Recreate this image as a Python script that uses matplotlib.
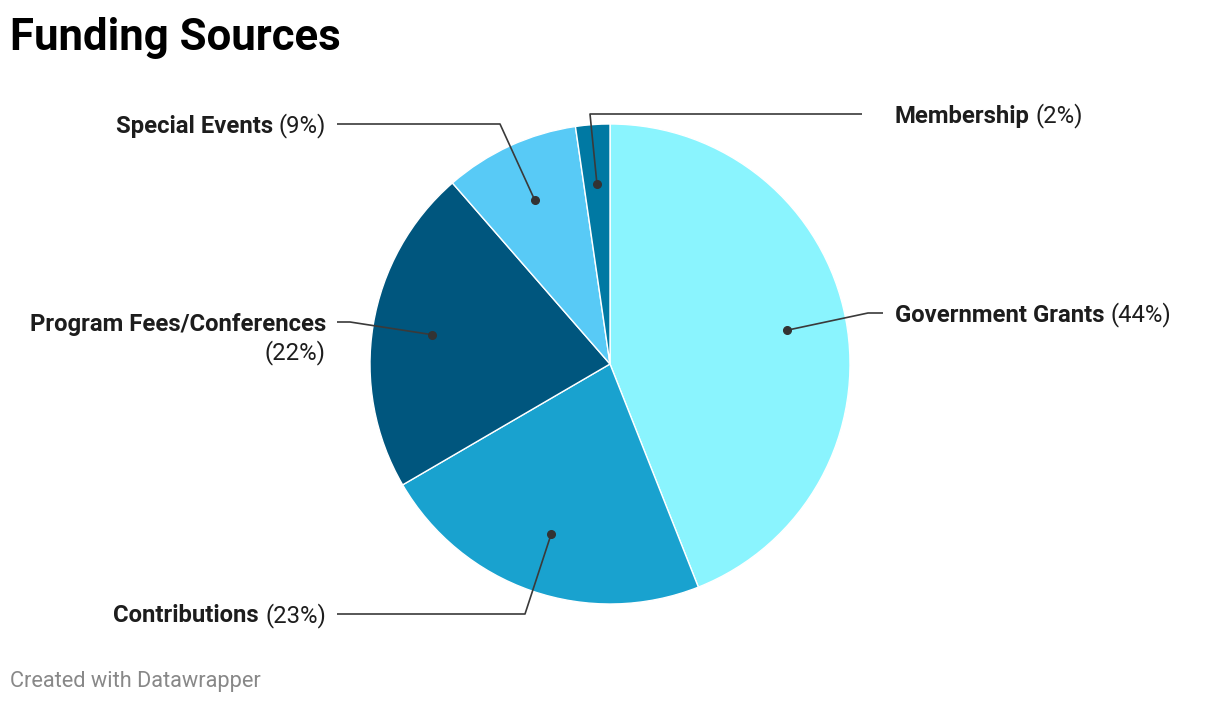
import matplotlib
matplotlib.use("Agg")
import matplotlib.pyplot as plt
import numpy as np

plt.rcParams['font.family'] = ['Roboto', 'DejaVu Sans']

# data (shares; labels show rounded values)
names = ['Government Grants', 'Contributions', 'Program Fees/Conferences',
         'Special Events', 'Membership']
shares = [44.0, 22.6, 22.0, 9.1, 2.3]
colors = ['#8af4fe', '#19a2cf', '#00567e', '#58caf6', '#0079a3']

W, H = 1220, 704
fig = plt.figure(figsize=(W / 100, H / 100), dpi=100, facecolor='white')
ax = fig.add_axes([0, 0, 1, 1])

cx, cy, R = 610, 364, 240
# y axis is inverted below, so counterclockwise in data = clockwise on screen
wedges, _ = ax.pie(shares, colors=colors, startangle=-90, counterclock=True,
                   center=(cx, cy), radius=R,
                   wedgeprops=dict(edgecolor='white', linewidth=1.0))
ax.set_xlim(0, W)
ax.set_ylim(H, 0)
ax.set_aspect('equal')
ax.axis('off')

# label layout: (elbow x, elbow y, line end x, text x, align, two lines?)
layout = {
    'Government Grants': (868, 313, 883, 895, 'left', False),
    'Contributions': (525, 614, 337, 326, 'right', False),
    'Program Fees/Conferences': (350, 322, 337, 326, 'right', True),
    'Special Events': (500, 124, 337, 326, 'right', False),
    'Membership': (590, 114, 862, 895, 'left', False),
}

lab_size = 17.2
line_col = '#3a3a3a'
txt_col = '#1d1d1d'
toff = 2  # nudge text down a bit relative to the leader line
fig.canvas.draw()
rend = fig.canvas.get_renderer()

for w, name, pct in zip(wedges, names, shares):
    mid = np.deg2rad((w.theta1 + w.theta2) / 2)
    dx = cx + 0.75 * R * np.cos(mid)
    dy = cy + 0.75 * R * np.sin(mid)
    ex, ey, lx, tx, ha, two = layout[name]
    ax.plot([dx, ex, lx], [dy, ey, ey], color=line_col, lw=1.2,
            solid_capstyle='butt', zorder=3)
    ax.plot(dx, dy, 'o', color='#333333', ms=5.5, zorder=4)
    ptxt = '(%d%%)' % round(pct)
    ty = ey + toff
    if two:
        ax.text(tx, ty, name, ha='right', va='center', fontsize=lab_size,
                fontweight='bold', color=txt_col)
        ax.text(tx, ty + 29, ptxt, ha='right', va='center', fontsize=lab_size,
                color=txt_col)
    elif ha == 'left':
        t = ax.text(tx, ty, name, ha='left', va='center', fontsize=lab_size,
                    fontweight='bold', color=txt_col)
        wd = t.get_window_extent(rend).width
        ax.text(tx + wd + 6, ty, ptxt, ha='left', va='center',
                fontsize=lab_size, color=txt_col)
    else:
        t = ax.text(tx, ty, ptxt, ha='right', va='center', fontsize=lab_size,
                    color=txt_col)
        wd = t.get_window_extent(rend).width
        ax.text(tx - wd - 6, ty, name, ha='right', va='center',
                fontsize=lab_size, fontweight='bold', color=txt_col)

fig.text(10 / W, 1 - 38 / H, 'Funding Sources', ha='left', va='center',
         fontsize=31.5, fontweight='bold', color='black')
fig.text(10 / W, 1 - 682 / H, 'Created with Datawrapper', ha='left',
         va='center', fontsize=15.7, color='#888888')

fig.savefig('out.png', dpi=100, facecolor='white')
